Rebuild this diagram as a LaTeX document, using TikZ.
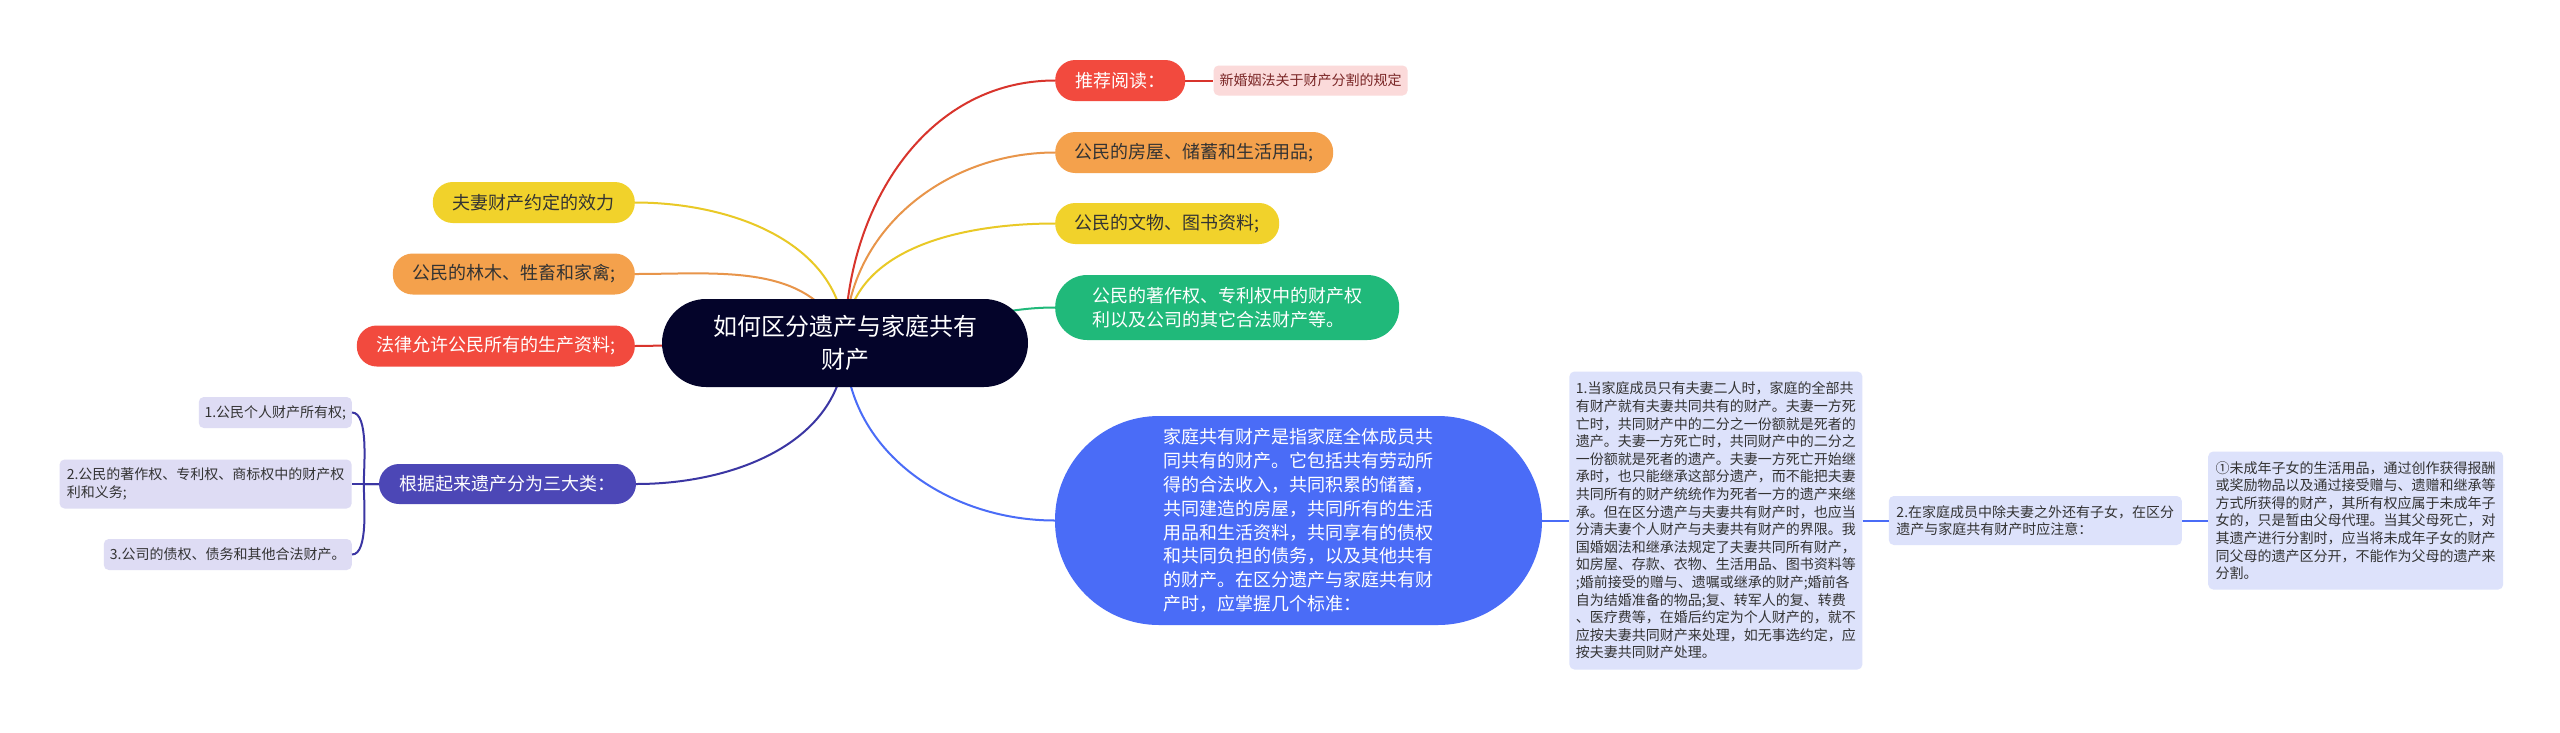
\documentclass[tikz,border=0pt]{standalone}
\usepackage{fontspec}
\setmainfont{Noto Sans CJK SC}
\usetikzlibrary{positioning,backgrounds}

\definecolor{cMain}{HTML}{04042A}
\definecolor{cRed}{HTML}{F24A3E}
\definecolor{cOrange}{HTML}{F4A14C}
\definecolor{cYellow}{HTML}{F1D22B}
\definecolor{cGreen}{HTML}{20B97A}
\definecolor{cIndigo}{HTML}{4C47B6}
\definecolor{cBlue}{HTML}{4A6CF7}
\definecolor{cPink}{HTML}{FBDADA}
\definecolor{cLilac}{HTML}{DEDCF4}
\definecolor{cSky}{HTML}{DDE2FB}
\definecolor{cInk}{HTML}{333333}
\definecolor{cMaroon}{HTML}{7A2626}
\definecolor{lRed}{HTML}{D8342C}
\definecolor{lOrange}{HTML}{E8954A}
\definecolor{lYellow}{HTML}{E9C926}
\definecolor{lIndigo}{HTML}{3B36A3}

\begin{document}
\begin{tikzpicture}[
  x=1pt, y=-1pt,
  central/.style={rectangle, fill=cMain, text=white, rounded corners=44pt,
    minimum width=366pt, minimum height=88pt, inner sep=0pt, align=center,
    font=\fontsize{24}{33}\selectfont},
  topic/.style={rectangle, rounded corners=20pt, minimum height=41pt,
    inner sep=0pt, align=left, font=\fontsize{18}{23.5}\selectfont},
  leaf/.style={rectangle, rounded corners=5pt, inner sep=0pt, align=left,
    text=cInk, font=\fontsize{14}{17.6}\selectfont},
  branch/.style={line width=2pt}
]

\begin{scope}[on background layer]
  \path[use as bounding box, fill=white] (0,0) rectangle (2560,732);
\end{scope}

% Nodo central
\node[central] (main) at (845,343) {如何区分遗产与家庭共有\\财产};

% Ramas de la derecha
\node[topic, fill=cRed, text=white, minimum width=130pt, anchor=west] (read) at (1055,80.5) {推荐阅读：};
\node[leaf, fill=cPink, text=cMaroon, minimum width=194pt, minimum height=30pt, right=28pt of read] (law) {新婚姻法关于财产分割的规定};
\node[topic, fill=cOrange, text=cInk, minimum width=278pt, anchor=west] (house) at (1055,152.5) {公民的房屋、储蓄和生活用品;};
\node[topic, fill=cYellow, text=cInk, minimum width=224pt, anchor=west] (relic) at (1055,223.5) {公民的文物、图书资料;};
\node[topic, fill=cGreen, text=white, minimum width=344pt, minimum height=65pt, rounded corners=32pt, anchor=west] (patent) at (1055,307.5)
  {公民的著作权、专利权中的财产权\\利以及公司的其它合法财产等。};

% Ramas de la izquierda
\node[topic, fill=cYellow, text=cInk, minimum width=202pt, anchor=east] (agree) at (635,202.5) {夫妻财产约定的效力};
\node[topic, fill=cOrange, text=cInk, minimum width=242pt, anchor=east] (forest) at (635,274) {公民的林木、牲畜和家禽;};
\node[topic, fill=cRed, text=white, minimum width=278pt, anchor=east] (means) at (635,346) {法律允许公民所有的生产资料;};

% Tres clases
\node[topic, fill=cIndigo, text=white, minimum width=257pt, minimum height=40pt] (kinds) at (507.5,484) {根据起来遗产分为三大类：};
\node[leaf, fill=cLilac, minimum width=292pt, minimum height=49pt, left=27pt of kinds] (k2)
  {2.公民的著作权、专利权、商标权中的财产权\\利和义务;};
\node[leaf, fill=cLilac, minimum width=153pt, minimum height=31pt, anchor=east] (k1) at (352,412.5) {1.公民个人财产所有权;};
\node[leaf, fill=cLilac, minimum width=248pt, minimum height=31pt, anchor=east] (k3) at (352,554.5) {3.公司的债权、债务和其他合法财产。};

% Patrimonio familiar
\node[topic, fill=cBlue, text=white, minimum width=487pt, minimum height=209pt, rounded corners=104pt,
  font=\fontsize{18}{23.8}\selectfont] (family) at (1298.5,520.5)
  {家庭共有财产是指家庭全体成员共\\同共有的财产。它包括共有劳动所\\得的合法收入，共同积累的储蓄，\\共同建造的房屋，共同所有的生活\\用品和生活资料，共同享有的债权\\和共同负担的债务，以及其他共有\\的财产。在区分遗产与家庭共有财\\产时，应掌握几个标准：};

\node[leaf, fill=cSky, minimum width=293pt, minimum height=298pt, right=27pt of family] (s1)
  {1.当家庭成员只有夫妻二人时，家庭的全部共\\有财产就有夫妻共同共有的财产。夫妻一方死\\亡时，共同财产中的二分之一份额就是死者的\\遗产。夫妻一方死亡时，共同财产中的二分之\\一份额就是死者的遗产。夫妻一方死亡开始继\\承时，也只能继承这部分遗产，而不能把夫妻\\共同所有的财产统统作为死者一方的遗产来继\\承。但在区分遗产与夫妻共有财产时，也应当\\分清夫妻个人财产与夫妻共有财产的界限。我\\国婚姻法和继承法规定了夫妻共同所有财产，\\如房屋、存款、衣物、生活用品、图书资料等\\;婚前接受的赠与、遗嘱或继承的财产;婚前各\\自为结婚准备的物品;复、转军人的复、转费\\、医疗费等，在婚后约定为个人财产的，就不\\应按夫妻共同财产来处理，如无事选约定，应\\按夫妻共同财产处理。};
\node[leaf, fill=cSky, minimum width=293pt, minimum height=49pt, right=26pt of s1] (s2)
  {2.在家庭成员中除夫妻之外还有子女，在区分\\遗产与家庭共有财产时应注意：};
\node[leaf, fill=cSky, minimum width=295pt, minimum height=138pt, right=26pt of s2] (s3)
  {①未成年子女的生活用品，通过创作获得报酬\\或奖励物品以及通过接受赠与、遗赠和继承等\\方式所获得的财产，其所有权应属于未成年子\\女的，只是暂由父母代理。当其父母死亡，对\\其遗产进行分割时，应当将未成年子女的财产\\同父母的遗产区分开，不能作为父母的遗产来\\分割。};

% Conexiones
\begin{scope}[on background layer]
  \draw[branch, lRed] (main.center) to[out=90, in=180] (read.west);
  \draw[branch, lOrange] (main.center) to[out=90, in=180] (house.west);
  \draw[branch, lYellow] (main.center) to[out=90, in=180] (relic.west);
  \draw[branch, cGreen] (main.center) to[out=0, in=180] (patent.west);
  \draw[branch, lYellow] (main.center) to[out=90, in=0] (agree.east);
  \draw[branch, lOrange] (main.center) to[out=110, in=0] (forest.east);
  \draw[branch, lRed] (main.center) -- (means.east);
  \draw[branch, lIndigo] (main.center) to[out=-90, in=0] (kinds.east);
  \draw[branch, cBlue] (main.center) to[out=-90, in=180] (family.west);
\end{scope}

\draw[branch, lRed] (read) -- (law);
\draw[branch, lIndigo] (kinds) -- (k2);
\draw[branch, lIndigo] (kinds.west) -- ++(-15,0) to[out=90, in=0, looseness=0.6] (k1.east);
\draw[branch, lIndigo] (kinds.west) -- ++(-15,0) to[out=-90, in=0, looseness=0.6] (k3.east);
\draw[branch, cBlue] (family) -- (s1);
\draw[branch, cBlue] (s1) -- (s2);
\draw[branch, cBlue] (s2) -- (s3);

\end{tikzpicture}
\end{document}
